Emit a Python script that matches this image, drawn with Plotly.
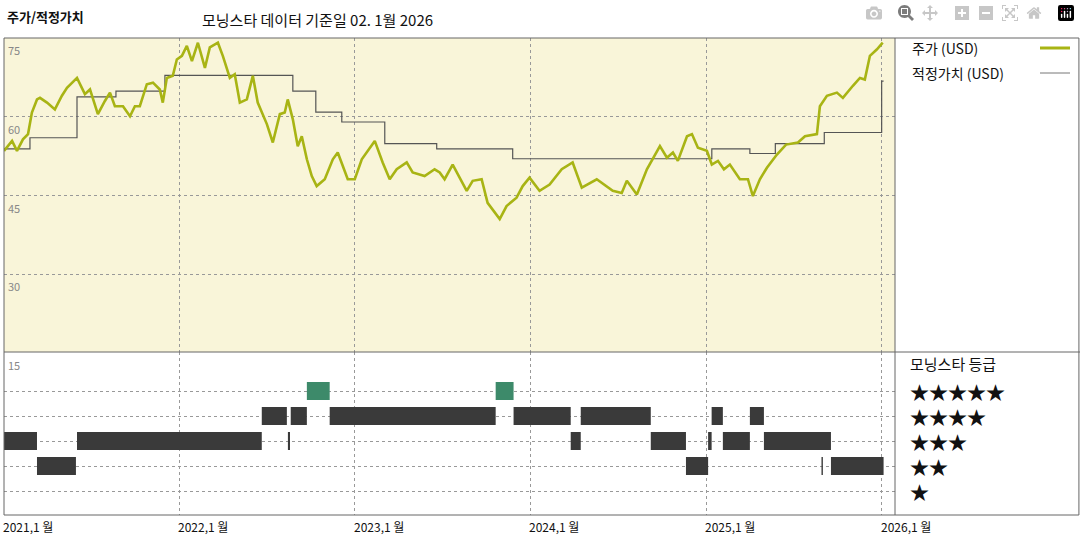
import plotly.graph_objects as go
import pandas as pd

# ---- data (decimal years) ----
price_t = [2021.0,2021.046,2021.074,2021.108,2021.137,2021.159,2021.188,2021.205,2021.245,2021.290,2021.330,2021.359,2021.416,2021.461,2021.490,2021.535,2021.575,2021.604,2021.632,2021.678,2021.718,2021.746,2021.774,2021.814,2021.849,2021.888,2021.905,2021.928,2021.962,2021.985,2022.014,2022.042,2022.071,2022.105,2022.145,2022.173,2022.219,2022.247,2022.287,2022.315,2022.344,2022.384,2022.418,2022.446,2022.498,2022.532,2022.572,2022.600,2022.617,2022.646,2022.674,2022.697,2022.726,2022.754,2022.782,2022.828,2022.874,2022.902,2022.959,2022.999,2023.039,2023.113,2023.158,2023.198,2023.238,2023.295,2023.329,2023.397,2023.454,2023.483,2023.511,2023.557,2023.637,2023.671,2023.722,2023.756,2023.825,2023.864,2023.921,2023.956,2023.995,2024.052,2024.109,2024.178,2024.240,2024.292,2024.377,2024.468,2024.519,2024.548,2024.605,2024.662,2024.736,2024.776,2024.810,2024.838,2024.890,2024.918,2024.952,2025.003,2025.031,2025.066,2025.100,2025.134,2025.191,2025.237,2025.265,2025.305,2025.345,2025.402,2025.454,2025.522,2025.562,2025.630,2025.647,2025.687,2025.744,2025.778,2025.835,2025.875,2025.903,2025.932,2025.971,2026.005]
price_v = [53.5,55.4,53.5,55.7,56.7,60.8,63.3,63.6,62.7,61.4,64.0,65.5,67.4,64.3,65.2,60.5,63.0,64.6,62.0,62.0,60.1,62.0,62.0,66.2,66.5,65.2,62.7,67.4,67.8,70.9,71.6,73.5,70.6,74.1,69.3,73.2,74.1,71.6,67.4,68.1,62.7,63.3,67.8,62.7,58.6,55.1,60.5,60.8,63.3,59.5,54.4,56.3,51.9,48.7,46.8,48.1,51.9,53.2,48.1,48.1,51.9,55.4,51.3,48.1,50.0,51.3,49.4,48.7,50.0,49.4,48.1,50.9,45.9,47.8,48.1,43.6,40.5,43.0,44.6,46.8,48.4,45.9,47.1,50.0,51.3,46.5,48.1,45.9,45.5,47.8,45.2,50.0,54.4,52.2,53.2,51.6,56.3,56.7,54.1,53.5,50.9,51.6,50.0,50.9,48.1,48.1,44.9,48.1,50.3,52.8,54.7,55.1,56.3,56.7,62.0,64.0,64.6,63.6,65.9,67.4,67.1,71.6,72.8,74.1]

fair_t = [2021.0,2021.148,2021.416,2021.638,2021.917,2022.646,2022.777,2022.925,2023.170,2023.466,2023.899,2025.015,2025.031,2025.248,2025.393,2025.672,2025.999,2026.01]
fair_v = [53.9,56.0,63.8,64.9,67.9,64.9,60.9,59.0,54.9,53.9,52.0,52.0,53.9,53.0,54.9,57.0,66.8,66.8]

# star rating segments: (start, end, rating)
rating_seg = [
    (2021.0,2021.188,3),(2021.188,2021.410,2),(2021.416,2022.469,3),(2022.469,2022.612,4),
    (2022.618,2022.630,3),(2022.634,2022.726,4),(2022.726,2022.856,5),(2022.856,2023.802,4),
    (2023.802,2023.904,5),(2023.904,2024.229,4),(2024.229,2024.286,3),(2024.286,2024.684,4),
    (2024.684,2024.884,3),(2024.884,2025.010,2),(2025.010,2025.030,3),(2025.030,2025.094,4),
    (2025.094,2025.248,3),(2025.248,2025.328,4),(2025.328,2025.710,3),(2025.656,2025.664,2),
    (2025.710,2026.010,2),
]
years = [2021,2022,2023,2024,2025,2026]
price_ticks = [75,60,45,30]
star_labels = ["★★★★★","★★★★","★★★","★★","★"]

def dy(t):
    t = float(t); y = int(t)
    s = pd.Timestamp(year=y, month=1, day=1); e = pd.Timestamp(year=y+1, month=1, day=1)
    return s + (e - s) * (t - y)

FONT = "Noto Sans CJK KR, Noto Sans, sans-serif"
fig = go.Figure()
fig.add_trace(go.Scatter(x=[dy(t) for t in fair_t], y=fair_v, mode="lines",
    line=dict(color="#555555", width=1.2, shape="hv"), xaxis="x", yaxis="y"))
fig.add_trace(go.Scatter(x=[dy(t) for t in price_t], y=price_v, mode="lines",
    line=dict(color="#a8b414", width=2.6), xaxis="x", yaxis="y"))

for r, col in [(2, "#3a3a3a"), (3, "#3a3a3a"), (4, "#3a3a3a"), (5, "#3d8a6a")]:
    xs, ys = [], []
    for s, e, rr in rating_seg:
        if rr == r:
            xs += [dy(s), dy(e), None]; ys += [r, r, None]
    fig.add_trace(go.Scatter(x=xs, y=ys, mode="lines", line=dict(color=col, width=18),
                             xaxis="x2", yaxis="y2"))

x0, x1 = 4/1080, 895/1080
grid = dict(showgrid=True, gridcolor="#999999", griddash="dot", gridwidth=1)
xr = [dy(2021.0), dy(2026.075)]
fig.update_layout(
    width=1080, height=540, margin=dict(l=0, r=0, t=0, b=0), showlegend=False,
    paper_bgcolor="white", font=dict(family=FONT, color="#222"),
    xaxis=dict(domain=[x0, x1], anchor="y", range=xr, tickvals=[dy(y) for y in years],
               showticklabels=False, zeroline=False, **grid),
    yaxis=dict(domain=[188/540, 502/540], range=[15.2, 75], tickvals=[30, 45, 60],
               showticklabels=False, zeroline=False, **grid),
    xaxis2=dict(domain=[x0, x1], anchor="y2", range=xr, tickvals=[dy(y) for y in years],
                showticklabels=False, zeroline=False, **grid),
    yaxis2=dict(domain=[25/540, 188/540], range=[0.04, 6.56], tickvals=[1, 2, 3, 4, 5],
                showticklabels=False, zeroline=False, **grid),
    plot_bgcolor="white",
)
shapes = [
    dict(type="rect", xref="x domain", yref="y domain", x0=0, x1=1, y0=0, y1=1,
         fillcolor="#f9f5d9", line=dict(width=0), layer="below"),
    dict(type="rect", xref="paper", yref="paper", x0=x0, x1=0.999, y0=25/540, y1=502/540,
         line=dict(color="#666", width=1)),
    dict(type="line", xref="paper", yref="paper", x0=x1, x1=x1, y0=25/540, y1=502/540,
         line=dict(color="#666", width=1)),
    dict(type="line", xref="paper", yref="paper", x0=x0, x1=1, y0=188/540, y1=188/540,
         line=dict(color="#666", width=1)),
    dict(type="line", xref="paper", yref="paper", x0=1040/1080, x1=1070/1080, y0=492/540, y1=492/540,
         line=dict(color="#a8b414", width=3)),
    dict(type="line", xref="paper", yref="paper", x0=1040/1080, x1=1070/1080, y0=467/540, y1=467/540,
         line=dict(color="#777", width=1)),
]
fig.update_layout(shapes=shapes)

ann = [
    dict(text="<b>주가/적정가치</b>", x=5/1080, y=1-16/540, xanchor="left", yanchor="middle", size=13),
    dict(text="모닝스타 데이터 기준일 02. 1월 2026", x=200/1080, y=1-20/540, xanchor="left", yanchor="middle", size=15),
    dict(text="주가 (USD)", x=910/1080, y=1-48/540, xanchor="left", yanchor="middle", size=14),
    dict(text="적정가치 (USD)", x=910/1080, y=1-73/540, xanchor="left", yanchor="middle", size=14),
    dict(text="모닝스타 등급", x=908/1080, y=1-363/540, xanchor="left", yanchor="middle", size=15),
]
for i, s in enumerate(star_labels):
    ann.append(dict(text=s, x=908/1080, y=1-(391+25*i)/540, xanchor="left", yanchor="middle", size=19))
for a in ann:
    fig.add_annotation(text=a["text"], xref="paper", yref="paper", x=a["x"], y=a["y"],
                       xanchor=a["xanchor"], yanchor=a["yanchor"], showarrow=False,
                       font=dict(size=a["size"], color="#111", family=FONT))
for v in price_ticks:
    fig.add_annotation(text=str(v), xref="paper", yref="y", x=6/1080, y=v, yshift=-2,
                       xanchor="left", yanchor="top", showarrow=False,
                       font=dict(size=11, color="#888", family=FONT))
fig.add_annotation(text="15", xref="paper", yref="paper", x=6/1080, y=1-355/540,
                   xanchor="left", yanchor="top", showarrow=False, font=dict(size=11, color="#888", family=FONT))
for y in years:
    fig.add_annotation(text=f"{y},1 월", xref="x2", yref="paper", x=dy(y), y=1-516/540,
                       xanchor="left", yanchor="top", showarrow=False, xshift=-3,
                       font=dict(size=12, color="#111", family=FONT))

fig.write_html("out.html", post_script="document.body.style.margin='0';document.body.style.overflow='hidden';")
